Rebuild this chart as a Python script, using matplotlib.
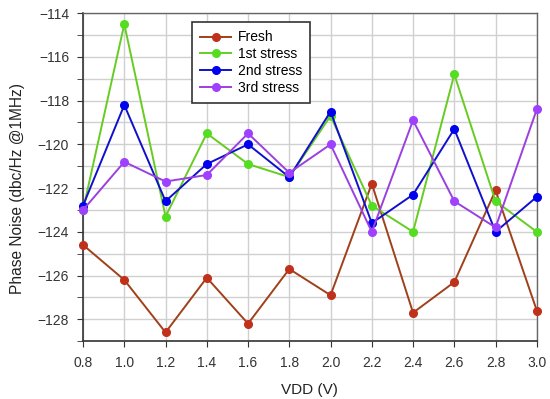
import matplotlib.pyplot as plt
from matplotlib.ticker import MultipleLocator

plt.rcParams["font.family"] = ["Liberation Sans", "DejaVu Sans"]
plt.rcParams["axes.unicode_minus"] = True

vdd = [0.8, 1.0, 1.2, 1.4, 1.6, 1.8, 2.0, 2.2, 2.4, 2.6, 2.8, 3.0]
fresh = [-124.6, -126.2, -128.6, -126.1, -128.2, -125.7, -126.9, -121.8, -127.7, -126.3, -122.1, -127.6]
stress1 = [-123.0, -114.5, -123.3, -119.5, -120.9, -121.5, -118.7, -122.8, -124.0, -116.8, -122.6, -124.0]
stress2 = [-122.8, -118.2, -122.6, -120.9, -120.0, -121.5, -118.5, -123.6, -122.3, -119.3, -124.0, -122.4]
stress3 = [-123.0, -120.8, -121.7, -121.4, -119.5, -121.3, -120.0, -124.0, -118.9, -122.6, -123.8, -118.4]

series = [
    ("Fresh", fresh, "#a0401a", "#c0301a"),
    ("1st stress", stress1, "#66cc22", "#55dd22"),
    ("2nd stress", stress2, "#1010cc", "#0000ee"),
    ("3rd stress", stress3, "#9a40e0", "#a040ff"),
]

fig = plt.figure(figsize=(5.5, 3.99), dpi=100)
ax = fig.add_axes([0.151, 0.145, 0.825, 0.822])

for name, vals, lc, mc in series:
    ax.plot(vdd, vals, color=lc, lw=1.4, marker="o", ms=5.5, clip_on=False,
            markerfacecolor=mc, markeredgecolor=mc, label=name, zorder=3)

ax.set_xlim(0.8, 3.0)
ax.set_ylim(-129, -114)
ax.xaxis.set_major_locator(MultipleLocator(0.2))
ax.yaxis.set_major_locator(MultipleLocator(2))
ax.yaxis.set_minor_locator(MultipleLocator(1))
ax.xaxis.set_major_formatter(plt.FormatStrFormatter("%.1f"))
ax.grid(True, which="both", color="#d0d0d0", lw=1.0)
ax.set_axisbelow(True)

for s in ["left", "bottom"]:
    ax.spines[s].set_color("#333333")
    ax.spines[s].set_linewidth(1.2)
for s in ["top", "right"]:
    ax.spines[s].set_color("#666666")
    ax.spines[s].set_linewidth(1.0)

ax.tick_params(which="both", direction="out", color="#333333", labelcolor="#333333",
               labelsize=10, length=4)
ax.tick_params(axis="x", pad=7)
ax.tick_params(axis="y", pad=6)

ax.set_xlabel("VDD (V)", fontsize=11, color="#222222", labelpad=9)
ax.set_ylabel("Phase Noise (dbc/Hz @1MHz)", fontsize=11.2, color="#222222")
ax.yaxis.set_label_coords(-0.128, 0.466)

leg = ax.legend(loc="upper left", bbox_to_anchor=(0.240, 0.9726), fontsize=10,
                fancybox=False, edgecolor="#333333", framealpha=1,
                borderaxespad=0, handlelength=2.2, handletextpad=0.5,
                borderpad=0.6, labelspacing=0.2)
leg.get_frame().set_linewidth(1.2)

fig.savefig("out.png", dpi=100)
